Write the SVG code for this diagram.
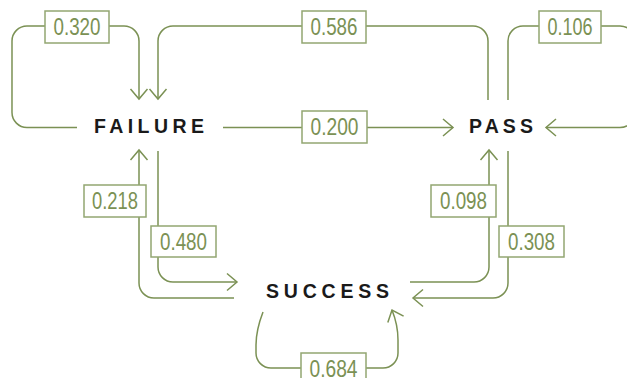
<svg xmlns="http://www.w3.org/2000/svg" width="627" height="378" viewBox="0 0 627 378">
<style>
.edge{fill:none;stroke:#7b9154;stroke-width:1.5;marker-end:url(#arr)}
.box{fill:#fff;stroke:#93a672;stroke-width:1.5}
.lbl{font-family:"Liberation Sans",Arial,sans-serif;font-size:23px;fill:#7b9154;text-anchor:middle}
.node{font-family:"Liberation Sans",Arial,sans-serif;font-size:19.5px;font-weight:bold;fill:#1a1a1a}
</style>
<defs>
<marker id="arr" markerUnits="userSpaceOnUse" markerWidth="24" markerHeight="24" viewBox="-12 -12 24 24" refX="0" refY="0" orient="auto" overflow="visible">
<path d="M-10,-8.5 L0,0 L-10,8.5" fill="none" stroke="#7b9154" stroke-width="1.5"/>
</marker>
</defs>
<rect width="627" height="378" fill="#fff"/>
<g id="connectors">
<path class="edge" d="M77,127.5 H27 A15,15 0 0 1 12,112.5 V41 A15,15 0 0 1 27,26 H124 A15,15 0 0 1 139,41 V99"/>
<path class="edge" d="M488,100 V41 A15,15 0 0 0 473,26 H173 A15,15 0 0 0 158,41 V99"/>
<path class="edge" d="M508,100 V41 A15,15 0 0 1 523,26 H620 A15,15 0 0 1 635,41 V112.5 A15,15 0 0 1 620,127.5 H546"/>
<path class="edge" d="M223,127.5 H453"/>
<path class="edge" d="M234,298 H154 A15,15 0 0 1 139,283 V150"/>
<path class="edge" d="M158,151 V267 A15,15 0 0 0 173,282 H237"/>
<path class="edge" d="M410,282 H474 A15,15 0 0 0 489,267 V150"/>
<path class="edge" d="M508,151 V283 A15,15 0 0 1 493,298 H413"/>
<path class="edge" d="M263,312 C258,325 256,335 256,345 V353 A15,15 0 0 0 271,368 H383 A15,15 0 0 0 398,353 V340 C398,328 396,320 392,310"/>
<g id="l-0320"><rect class="box" x="45" y="11" width="64" height="32"/><text class="lbl" x="77" y="35" textLength="47" lengthAdjust="spacingAndGlyphs">0.320</text></g>
<g id="l-0586"><rect class="box" x="302" y="11" width="64" height="32"/><text class="lbl" x="334" y="35" textLength="47" lengthAdjust="spacingAndGlyphs">0.586</text></g>
<g id="l-0106"><rect class="box" x="539" y="11" width="62" height="32"/><text class="lbl" x="570" y="35" textLength="45" lengthAdjust="spacingAndGlyphs">0.106</text></g>
<g id="l-0200"><rect class="box" x="302" y="111" width="65" height="32"/><text class="lbl" x="334.5" y="135" textLength="48" lengthAdjust="spacingAndGlyphs">0.200</text></g>
<g id="l-0218"><rect class="box" x="84" y="185" width="62" height="32"/><text class="lbl" x="115" y="209" textLength="46" lengthAdjust="spacingAndGlyphs">0.218</text></g>
<g id="l-0480"><rect class="box" x="151" y="226" width="65" height="31"/><text class="lbl" x="183.5" y="249.5" textLength="47" lengthAdjust="spacingAndGlyphs">0.480</text></g>
<g id="l-0098"><rect class="box" x="431" y="185" width="65" height="32"/><text class="lbl" x="463.5" y="209" textLength="47" lengthAdjust="spacingAndGlyphs">0.098</text></g>
<g id="l-0308"><rect class="box" x="499" y="226" width="65" height="31"/><text class="lbl" x="531.5" y="249.5" textLength="47" lengthAdjust="spacingAndGlyphs">0.308</text></g>
<g id="l-0684"><rect class="box" x="301" y="353" width="65" height="32"/><text class="lbl" x="333.5" y="376.5" textLength="48" lengthAdjust="spacingAndGlyphs">0.684</text></g>
</g>
<g id="failure"><text class="node" x="94" y="133" textLength="110" lengthAdjust="spacing">FAILURE</text></g>
<g id="pass"><text class="node" x="469" y="133" textLength="64" lengthAdjust="spacing">PASS</text></g>
<g id="success"><text class="node" x="266" y="298" textLength="123" lengthAdjust="spacing">SUCCESS</text></g>
</svg>
